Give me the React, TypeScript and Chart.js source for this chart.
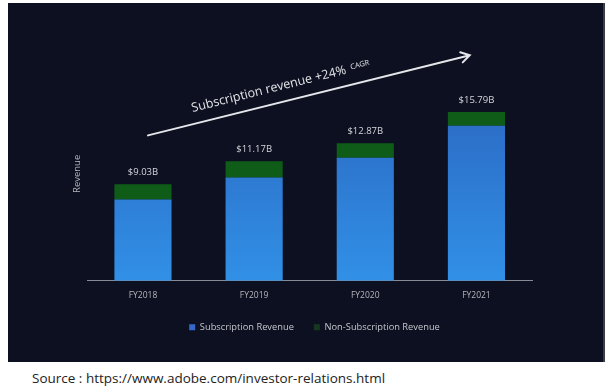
import React, { useEffect, useRef } from "react";
import { Chart, registerables } from "chart.js";

Chart.register(...registerables);

// ---- data ----
const categories = ["FY2018", "FY2019", "FY2020", "FY2021"];
const subscriptionRevenue = [7.6, 9.65, 11.5, 14.5];
const nonSubscriptionRevenue = [1.43, 1.52, 1.37, 1.29];
const totalLabels = ["$9.03B", "$11.17B", "$12.87B", "$15.79B"];
const seriesNames = ["Subscription Revenue", "Non-Subscription Revenue"];
const yAxisTitle = "Revenue";
const trendText = "Subscription revenue +24%";
const trendSuffix = "CAGR";
const sourceText = "Source : https://www.adobe.com/investor-relations.html";
// trend arrow in (category index, value) coordinates
const trendStart = [0.045, 13.6];
const trendEnd = [2.94, 21.1];
const yMax = 20;

const FONT = "'Open Sans', 'Noto Sans', sans-serif";

const overlayPlugin = {
  id: "overlay",
  afterDatasetsDraw(chart: any) {
    const { ctx } = chart;
    const meta = chart.getDatasetMeta(1);
    ctx.save();
    ctx.fillStyle = "#d4d6dc";
    ctx.font = `9.5px ${FONT}`;
    ctx.textAlign = "center";
    ctx.textBaseline = "middle";
    meta.data.forEach((bar: any, i: number) => {
      ctx.fillText(totalLabels[i], bar.x, bar.y - 12);
    });
    ctx.restore();
  },
  afterDraw(chart: any) {
    const { ctx, scales } = chart;
    const x = scales.x;
    const y = scales.y;
    const x0 = x.getPixelForValue(trendStart[0]);
    const y0 = y.getPixelForValue(trendStart[1]);
    const x1 = x.getPixelForValue(trendEnd[0]);
    const y1 = y.getPixelForValue(trendEnd[1]);
    const ang = Math.atan2(y1 - y0, x1 - x0);
    ctx.save();
    ctx.strokeStyle = "#e4e6ea";
    ctx.lineWidth = 2;
    ctx.lineCap = "round";
    ctx.beginPath();
    ctx.moveTo(x0, y0);
    ctx.lineTo(x1, y1);
    const head = 10;
    const spread = 0.55;
    ctx.moveTo(x1 - head * Math.cos(ang - spread), y1 - head * Math.sin(ang - spread));
    ctx.lineTo(x1, y1);
    ctx.lineTo(x1 - head * Math.cos(ang + spread), y1 - head * Math.sin(ang + spread));
    ctx.stroke();

    ctx.translate(x0 + 49 * Math.cos(ang), y0 + 49 * Math.sin(ang));
    ctx.rotate(ang);
    ctx.fillStyle = "#e2e4e8";
    ctx.textBaseline = "alphabetic";
    ctx.textAlign = "left";
    ctx.font = `12.5px ${FONT}`;
    ctx.fillText(trendText, 0, -12);
    const w = ctx.measureText(trendText).width;
    ctx.font = `7.5px ${FONT}`;
    ctx.fillText(trendSuffix, w + 5, -15);
    ctx.restore();
  },
};

function blueFill(context: any) {
  const { chart } = context;
  const area = chart.chartArea;
  if (!area) return "#2f7ad6";
  const g = chart.ctx.createLinearGradient(0, area.top, 0, area.bottom);
  g.addColorStop(0, "#2a62bd");
  g.addColorStop(1, "#3190e6");
  return g;
}

export default function App() {
  const canvasRef = useRef<HTMLCanvasElement | null>(null);

  useEffect(() => {
    if (!canvasRef.current) return;
    const chart = new Chart(canvasRef.current, {
      type: "bar",
      data: {
        labels: categories,
        datasets: [
          {
            label: seriesNames[0],
            data: subscriptionRevenue,
            backgroundColor: blueFill,
            borderWidth: 0,
          },
          {
            label: seriesNames[1],
            data: nonSubscriptionRevenue,
            backgroundColor: "#0f5c18",
            borderWidth: 0,
          },
        ],
      },
      options: {
        animation: false,
        responsive: false,
        maintainAspectRatio: false,
        layout: { padding: { left: 60, right: 42, top: 64, bottom: 20 } },
        datasets: {
          bar: { categoryPercentage: 1, barPercentage: 0.514 },
        },
        plugins: {
          tooltip: { enabled: false },
          legend: {
            position: "bottom",
            labels: {
              color: "#c4c6cc",
              font: { family: FONT, size: 9.3 },
              boxWidth: 6,
              boxHeight: 6,
              padding: 20,
              generateLabels: () => [
                { text: seriesNames[0], fillStyle: "#3568c8", strokeStyle: "#3568c8", lineWidth: 0, datasetIndex: 0, fontColor: "#c4c6cc" },
                { text: seriesNames[1], fillStyle: "#17381f", strokeStyle: "#17381f", lineWidth: 0, datasetIndex: 1, fontColor: "#c4c6cc" },
              ],
            },
          },
        },
        scales: {
          x: {
            stacked: true,
            grid: { display: false, drawTicks: false },
            border: { display: true, color: "#868b95", width: 1 },
            ticks: { color: "#b4b6bc", font: { family: FONT, size: 8.5 }, padding: 10 },
            afterFit: (s: any) => {
              s.height = 22;
            },
          },
          y: {
            stacked: true,
            min: 0,
            max: yMax,
            grid: { display: false, drawTicks: false },
            border: { display: false },
            ticks: { display: false },
            title: {
              display: true,
              text: yAxisTitle,
              color: "#b4b6bc",
              font: { family: FONT, size: 9.5 },
            },
          },
          // empty right-hand spacer axis (no marks) so the legend centres like the original
          yRight: {
            type: "linear",
            position: "right",
            display: true,
            grid: { display: false, drawTicks: false },
            border: { display: false },
            ticks: { display: false },
            afterFit: (s: any) => {
              s.width = 29;
            },
          },
        },
      },
      plugins: [overlayPlugin],
    } as any);
    return () => chart.destroy();
  }, []);

  return (
    <div
      style={{
        position: "fixed",
        left: 0,
        top: 0,
        width: 612,
        height: 392,
        background: "#ffffff",
        overflow: "hidden",
      }}
    >
      <div
        style={{
          position: "absolute",
          left: 8,
          top: 3,
          width: 595,
          height: 359,
          background: "#0d1020",
          borderRight: "2px solid #3a3d45",
        }}
      >
        <canvas ref={canvasRef} width={595} height={359} style={{ display: "block" }} />
      </div>
      <div
        style={{
          position: "absolute",
          left: 32,
          top: 369,
          fontFamily: FONT,
          fontSize: 13.5,
          color: "#222",
          whiteSpace: "nowrap",
        }}
      >
        {sourceText}
      </div>
    </div>
  );
}
